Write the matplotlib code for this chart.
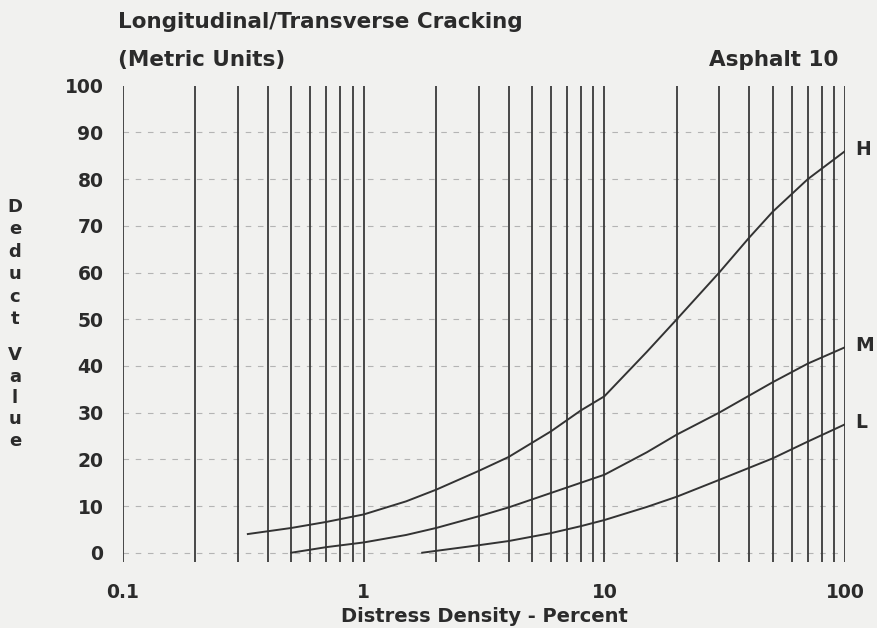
import numpy as np
import matplotlib
matplotlib.use("Agg")
import matplotlib.pyplot as plt

# curves (x = distress density %, y = deduct value)
h_x = [0.33, 0.5, 0.7, 1.0, 1.5, 2.0, 3.0, 4.0, 6.0, 8.0, 10.0, 15.0, 20.0, 30.0, 40.0, 50.0, 70.0, 100.0]
h_y = [4.0, 5.3, 6.6, 8.2, 11.0, 13.5, 17.5, 20.5, 26.0, 30.5, 33.5, 43.0, 50.0, 60.0, 67.5, 73.0, 80.0, 86.0]
m_x = [0.5, 0.7, 1.0, 1.5, 2.0, 3.0, 4.0, 6.0, 8.0, 10.0, 15.0, 20.0, 30.0, 50.0, 70.0, 100.0]
m_y = [0.0, 1.2, 2.2, 3.8, 5.3, 7.8, 9.7, 12.8, 15.0, 16.7, 21.5, 25.3, 30.0, 36.5, 40.5, 44.0]
l_x = [1.75, 2.0, 3.0, 4.0, 6.0, 8.0, 10.0, 15.0, 20.0, 30.0, 50.0, 70.0, 100.0]
l_y = [0.0, 0.4, 1.6, 2.5, 4.2, 5.7, 7.0, 9.8, 12.0, 15.6, 20.2, 23.8, 27.5]
curve_labels = ["H", "M", "L"]

x_ticks = [0.1, 1, 10, 100]
x_tick_labels = ["0.1", "1", "10", "100"]
y_ticks = list(range(0, 101, 10))
v_lines = [m * d for d in (0.1, 1, 10) for m in range(1, 10)] + [100]

ink = "#2b2b2b"
paper = "#f1f1ef"
plt.rcParams["font.family"] = ["DejaVu Sans"]

fig = plt.figure(figsize=(8.77, 6.28), dpi=100, facecolor=paper)
ax = fig.add_axes([0.1403, 0.105, 0.8233, 0.7585])
ax.set_facecolor(paper)
ax.set_xscale("log")
ax.set_xlim(0.1, 100)
ax.set_ylim(-2, 100)

for v in v_lines:
    ax.axvline(v, color="#3a3a3a", lw=1.3, zorder=2)
for y in y_ticks[:-1]:
    ax.axhline(y, color="#b4b4b4", lw=0.8, ls=(0, (5, 6)), zorder=1)

for xs, ys in ((h_x, h_y), (m_x, m_y), (l_x, l_y)):
    ax.plot(xs, ys, color="#333333", lw=1.4, zorder=3)

for name, ys in zip(curve_labels, (h_y, m_y, l_y)):
    ax.annotate(name, (100, ys[-1]), xytext=(7, 1), textcoords="offset points",
                fontsize=13.5, fontweight="bold", color=ink, va="center", ha="left")

for s in ax.spines.values():
    s.set_visible(False)
ax.set_xticks(x_ticks)
ax.set_xticklabels(x_tick_labels)
ax.set_yticks(y_ticks)
ax.minorticks_off()
ax.tick_params(length=0, labelsize=13.5, labelcolor=ink)
ax.tick_params(axis="y", pad=14)
ax.tick_params(axis="x", pad=15)
for t in ax.get_xticklabels() + ax.get_yticklabels():
    t.set_fontweight("bold")

ax.set_xlabel("Distress Density - Percent", fontsize=14, fontweight="bold", color=ink, labelpad=4)

fig.text(118 / 877, 1 - 22 / 628, "Longitudinal/Transverse Cracking", fontsize=15.5,
         fontweight="bold", color=ink, va="center", ha="left")
fig.text(118 / 877, 1 - 60 / 628, "(Metric Units)", fontsize=15.5,
         fontweight="bold", color=ink, va="center", ha="left")
fig.text(838 / 877, 1 - 60 / 628, "Asphalt 10", fontsize=15.5,
         fontweight="bold", color=ink, va="center", ha="right")

# stacked y-axis label
for i, ch in enumerate("Deduct"):
    fig.text(15 / 877, 1 - (207 + i * 22.5) / 628, ch, fontsize=13, fontweight="bold",
             color=ink, ha="center", va="center")
for i, ch in enumerate("Value"):
    fig.text(15 / 877, 1 - (355 + i * 21.5) / 628, ch, fontsize=13, fontweight="bold",
             color=ink, ha="center", va="center")

fig.savefig("out.png", dpi=100, facecolor=paper)
